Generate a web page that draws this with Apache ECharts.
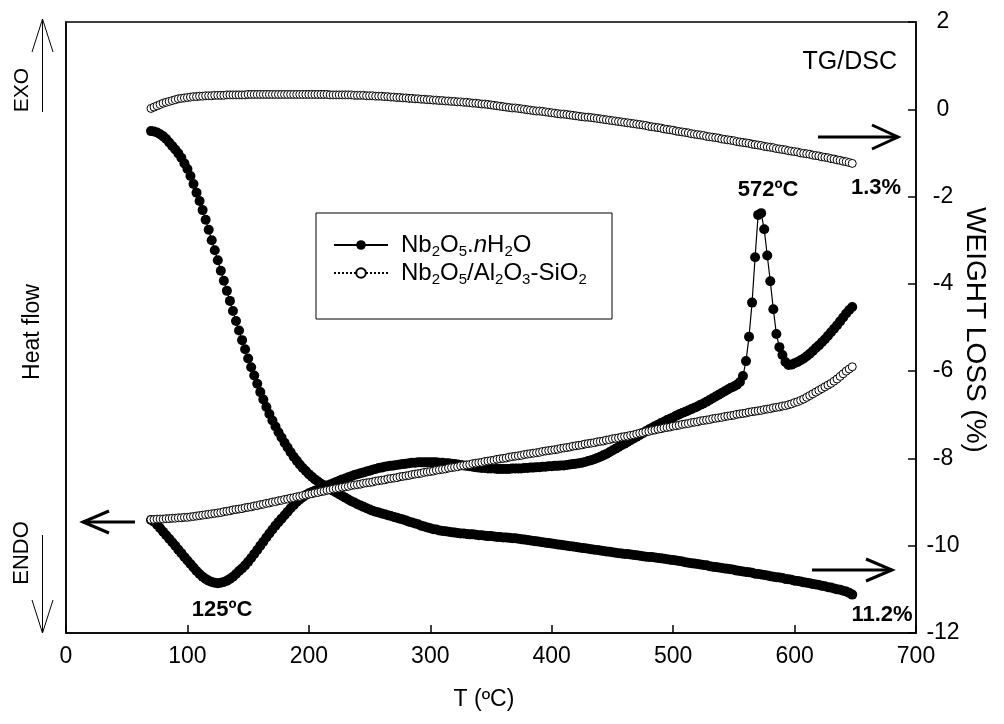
<!DOCTYPE html>
<html>
<head>
<meta charset="utf-8">
<script src="https://cdn.jsdelivr.net/npm/echarts@6/dist/echarts.min.js"></script>
<style>
html,body{margin:0;padding:0;background:#fff;}
#chart{width:1004px;height:724px;}
</style>
</head>
<body>
<div id="chart"></div>
<script>
// Temperature grid (°C)
const temps = [
70,72.5,75,77.5,80,82.5,85,87.5,90,92.5,
95,97.5,100,102.5,105,107.5,110,112.5,115,117.5,
120,122.5,125,127.5,130,132.5,135,137.5,140,142.5,
145,147.5,150,152.5,155,157.5,160,162.5,165,167.5,
170,172.5,175,177.5,180,182.5,185,187.5,190,192.5,
195,197.5,200,202.5,205,207.5,210,212.5,215,217.5,
220,222.5,225,227.5,230,232.5,235,237.5,240,242.5,
245,247.5,250,252.5,255,257.5,260,262.5,265,267.5,
270,272.5,275,277.5,280,282.5,285,287.5,290,292.5,
295,297.5,300,302.5,305,307.5,310,312.5,315,317.5,
320,322.5,325,327.5,330,332.5,335,337.5,340,342.5,
345,347.5,350,352.5,355,357.5,360,362.5,365,367.5,
370,372.5,375,377.5,380,382.5,385,387.5,390,392.5,
395,397.5,400,402.5,405,407.5,410,412.5,415,417.5,
420,422.5,425,427.5,430,432.5,435,437.5,440,442.5,
445,447.5,450,452.5,455,457.5,460,462.5,465,467.5,
470,472.5,475,477.5,480,482.5,485,487.5,490,492.5,
495,497.5,500,502.5,505,507.5,510,512.5,515,517.5,
520,522.5,525,527.5,530,532.5,535,537.5,540,542.5,
545,547.5,550,552.5,555,557.5,560,562.5,565,567.5,
570,572.5,575,577.5,580,582.5,585,587.5,590,592.5,
595,597.5,600,602.5,605,607.5,610,612.5,615,617.5,
620,622.5,625,627.5,630,632.5,635,637.5,640,642.5,
645,647.5];

// Nb2O5.nH2O - weight loss (%), right axis
const tgHydrate = [
-0.50,-0.51,-0.53,-0.57,-0.62,-0.68,-0.76,-0.84,-0.92,-1.01,
-1.11,-1.24,-1.37,-1.53,-1.71,-1.91,-2.10,-2.31,-2.53,-2.76,
-3.00,-3.23,-3.46,-3.70,-3.93,-4.16,-4.39,-4.62,-4.85,-5.07,
-5.29,-5.50,-5.71,-5.91,-6.10,-6.29,-6.48,-6.65,-6.82,-6.98,
-7.13,-7.27,-7.40,-7.52,-7.64,-7.75,-7.86,-7.96,-8.05,-8.14,
-8.22,-8.29,-8.36,-8.42,-8.48,-8.53,-8.58,-8.62,-8.66,-8.70,
-8.74,-8.78,-8.82,-8.86,-8.90,-8.94,-8.98,-9.01,-9.05,-9.08,
-9.11,-9.14,-9.17,-9.20,-9.22,-9.24,-9.26,-9.28,-9.30,-9.32,
-9.34,-9.36,-9.38,-9.40,-9.42,-9.45,-9.47,-9.49,-9.51,-9.54,
-9.56,-9.58,-9.60,-9.62,-9.63,-9.65,-9.66,-9.67,-9.68,-9.69,
-9.70,-9.71,-9.72,-9.72,-9.73,-9.74,-9.74,-9.75,-9.76,-9.76,
-9.77,-9.78,-9.78,-9.79,-9.80,-9.80,-9.81,-9.81,-9.82,-9.83,
-9.83,-9.84,-9.85,-9.86,-9.87,-9.88,-9.89,-9.90,-9.91,-9.92,
-9.93,-9.94,-9.95,-9.96,-9.97,-9.98,-9.99,-10.00,-10.01,-10.02,
-10.03,-10.04,-10.05,-10.06,-10.07,-10.08,-10.09,-10.10,-10.11,-10.12,
-10.13,-10.14,-10.15,-10.16,-10.17,-10.18,-10.19,-10.19,-10.20,-10.21,
-10.22,-10.23,-10.24,-10.25,-10.26,-10.26,-10.27,-10.28,-10.29,-10.30,
-10.31,-10.32,-10.33,-10.34,-10.35,-10.36,-10.38,-10.39,-10.40,-10.41,
-10.42,-10.43,-10.44,-10.45,-10.47,-10.48,-10.49,-10.50,-10.51,-10.52,
-10.53,-10.54,-10.55,-10.57,-10.58,-10.59,-10.60,-10.61,-10.62,-10.64,
-10.65,-10.66,-10.67,-10.68,-10.70,-10.71,-10.72,-10.73,-10.74,-10.76,
-10.77,-10.78,-10.80,-10.81,-10.82,-10.84,-10.85,-10.86,-10.88,-10.89,
-10.90,-10.92,-10.93,-10.95,-10.96,-10.98,-11.00,-11.01,-11.03,-11.05,
-11.08,-11.12];

// Nb2O5.nH2O - heat flow (arbitrary units, left axis)
const dscHydrate = [
-9.41,-9.45,-9.52,-9.60,-9.68,-9.76,-9.84,-9.92,-10.00,-10.09,
-10.17,-10.26,-10.34,-10.42,-10.50,-10.58,-10.65,-10.71,-10.76,-10.80,
-10.83,-10.85,-10.86,-10.85,-10.83,-10.80,-10.76,-10.71,-10.65,-10.58,
-10.52,-10.45,-10.37,-10.28,-10.19,-10.10,-10.00,-9.91,-9.81,-9.72,
-9.63,-9.54,-9.46,-9.38,-9.30,-9.22,-9.14,-9.07,-9.00,-8.94,
-8.89,-8.84,-8.80,-8.77,-8.74,-8.71,-8.68,-8.65,-8.62,-8.60,
-8.57,-8.54,-8.51,-8.48,-8.46,-8.43,-8.41,-8.38,-8.36,-8.34,
-8.32,-8.30,-8.28,-8.26,-8.24,-8.22,-8.21,-8.19,-8.18,-8.17,
-8.16,-8.15,-8.14,-8.13,-8.12,-8.11,-8.10,-8.10,-8.09,-8.09,
-8.09,-8.09,-8.09,-8.09,-8.09,-8.10,-8.10,-8.11,-8.11,-8.12,
-8.13,-8.14,-8.15,-8.16,-8.17,-8.18,-8.19,-8.20,-8.21,-8.22,
-8.22,-8.23,-8.23,-8.23,-8.24,-8.24,-8.24,-8.24,-8.24,-8.23,
-8.23,-8.23,-8.23,-8.22,-8.22,-8.21,-8.21,-8.20,-8.20,-8.19,
-8.19,-8.18,-8.18,-8.17,-8.17,-8.16,-8.16,-8.15,-8.14,-8.13,
-8.12,-8.11,-8.10,-8.08,-8.06,-8.04,-8.02,-7.99,-7.96,-7.93,
-7.90,-7.86,-7.82,-7.78,-7.74,-7.70,-7.66,-7.62,-7.58,-7.54,
-7.50,-7.46,-7.42,-7.38,-7.34,-7.30,-7.26,-7.23,-7.19,-7.16,
-7.12,-7.09,-7.06,-7.02,-6.99,-6.96,-6.93,-6.90,-6.87,-6.84,
-6.81,-6.77,-6.74,-6.70,-6.66,-6.62,-6.58,-6.54,-6.50,-6.46,
-6.42,-6.38,-6.35,-6.31,-6.25,-6.11,-5.77,-5.21,-4.43,-3.39,
-2.42,-2.38,-2.75,-3.35,-3.94,-4.58,-5.15,-5.45,-5.63,-5.79,
-5.86,-5.85,-5.82,-5.79,-5.75,-5.71,-5.66,-5.60,-5.54,-5.47,
-5.41,-5.34,-5.27,-5.19,-5.11,-5.03,-4.95,-4.86,-4.77,-4.68,
-4.60,-4.53];

// Nb2O5/Al2O3-SiO2 - weight loss (%), right axis
const tgSupported = [
0.02,0.05,0.08,0.11,0.14,0.16,0.18,0.20,0.22,0.24,
0.25,0.26,0.27,0.28,0.29,0.29,0.30,0.30,0.31,0.31,
0.31,0.32,0.32,0.32,0.32,0.33,0.33,0.33,0.33,0.33,
0.33,0.33,0.34,0.34,0.34,0.34,0.34,0.34,0.34,0.34,
0.34,0.34,0.34,0.34,0.34,0.34,0.34,0.34,0.34,0.34,
0.34,0.34,0.34,0.34,0.34,0.34,0.34,0.34,0.34,0.33,
0.33,0.33,0.33,0.33,0.33,0.33,0.33,0.32,0.32,0.32,
0.32,0.31,0.31,0.31,0.30,0.30,0.30,0.29,0.29,0.28,
0.28,0.27,0.27,0.26,0.26,0.25,0.25,0.24,0.24,0.23,
0.23,0.22,0.22,0.21,0.21,0.20,0.20,0.19,0.19,0.18,
0.18,0.17,0.17,0.16,0.16,0.15,0.14,0.14,0.13,0.12,
0.12,0.11,0.10,0.09,0.08,0.07,0.06,0.05,0.04,0.03,
0.03,0.02,0.01,0.00,-0.01,-0.02,-0.03,-0.04,-0.04,-0.05,
-0.06,-0.07,-0.08,-0.09,-0.10,-0.11,-0.11,-0.12,-0.13,-0.14,
-0.15,-0.16,-0.17,-0.18,-0.18,-0.19,-0.20,-0.21,-0.22,-0.23,
-0.24,-0.25,-0.26,-0.27,-0.28,-0.29,-0.30,-0.31,-0.32,-0.33,
-0.34,-0.35,-0.36,-0.37,-0.39,-0.40,-0.41,-0.42,-0.43,-0.45,
-0.46,-0.47,-0.48,-0.50,-0.51,-0.52,-0.53,-0.54,-0.56,-0.57,
-0.58,-0.59,-0.60,-0.62,-0.63,-0.64,-0.65,-0.66,-0.68,-0.69,
-0.70,-0.71,-0.72,-0.74,-0.75,-0.76,-0.77,-0.78,-0.80,-0.81,
-0.82,-0.83,-0.85,-0.86,-0.87,-0.88,-0.90,-0.91,-0.92,-0.93,
-0.95,-0.96,-0.97,-0.98,-1.00,-1.01,-1.02,-1.03,-1.05,-1.06,
-1.07,-1.09,-1.10,-1.11,-1.13,-1.14,-1.16,-1.17,-1.19,-1.20,
-1.22,-1.24];

// Nb2O5/Al2O3-SiO2 - heat flow (arbitrary units, left axis)
const dscSupported = [
-9.40,-9.40,-9.39,-9.39,-9.39,-9.38,-9.38,-9.37,-9.37,-9.36,
-9.36,-9.35,-9.35,-9.34,-9.33,-9.32,-9.31,-9.30,-9.29,-9.28,
-9.27,-9.26,-9.25,-9.24,-9.22,-9.21,-9.20,-9.18,-9.17,-9.16,
-9.15,-9.13,-9.12,-9.11,-9.09,-9.08,-9.06,-9.05,-9.03,-9.02,
-9.00,-8.99,-8.97,-8.96,-8.94,-8.93,-8.91,-8.90,-8.88,-8.87,
-8.85,-8.84,-8.82,-8.81,-8.79,-8.78,-8.76,-8.75,-8.73,-8.72,
-8.70,-8.69,-8.68,-8.66,-8.65,-8.64,-8.62,-8.61,-8.60,-8.59,
-8.57,-8.56,-8.55,-8.54,-8.52,-8.51,-8.50,-8.49,-8.47,-8.46,
-8.45,-8.44,-8.42,-8.41,-8.40,-8.39,-8.37,-8.36,-8.35,-8.34,
-8.32,-8.31,-8.30,-8.29,-8.27,-8.26,-8.25,-8.24,-8.22,-8.21,
-8.20,-8.19,-8.17,-8.16,-8.15,-8.14,-8.12,-8.11,-8.10,-8.09,
-8.07,-8.06,-8.05,-8.04,-8.02,-8.01,-8.00,-7.99,-7.97,-7.96,
-7.95,-7.94,-7.93,-7.91,-7.90,-7.89,-7.88,-7.87,-7.86,-7.84,
-7.83,-7.82,-7.81,-7.80,-7.79,-7.77,-7.76,-7.75,-7.74,-7.72,
-7.71,-7.70,-7.69,-7.67,-7.66,-7.65,-7.64,-7.62,-7.61,-7.60,
-7.58,-7.57,-7.55,-7.54,-7.53,-7.51,-7.50,-7.49,-7.47,-7.46,
-7.44,-7.42,-7.41,-7.39,-7.38,-7.36,-7.35,-7.33,-7.32,-7.30,
-7.29,-7.28,-7.26,-7.25,-7.24,-7.22,-7.21,-7.20,-7.18,-7.17,
-7.16,-7.14,-7.13,-7.12,-7.11,-7.09,-7.08,-7.07,-7.06,-7.04,
-7.03,-7.02,-7.01,-6.99,-6.98,-6.97,-6.96,-6.94,-6.93,-6.92,
-6.91,-6.90,-6.88,-6.87,-6.86,-6.84,-6.83,-6.82,-6.80,-6.79,
-6.77,-6.75,-6.72,-6.70,-6.67,-6.64,-6.60,-6.56,-6.52,-6.48,
-6.44,-6.40,-6.36,-6.32,-6.28,-6.23,-6.18,-6.12,-6.06,-6.00,
-5.95,-5.90];

const xTicks = [0, 700, 100];      // min, max, interval
const yTicks = [-12, 2, 2];        // min, max, interval (weight loss %)
const seriesNames = ['Nb2O5.nH2O', 'Nb2O5/Al2O3-SiO2'];
const peakLabels = ['125ºC', '572ºC'];
const lossLabels = ['1.3%', '11.2%'];

const FONT = '"Liberation Sans", Arial, Helvetica, sans-serif';
const pair = (ys) => temps.map((t, i) => [t, ys[i]]);

const chart = echarts.init(document.getElementById('chart'), null, {renderer: 'canvas'});

const filledStyle = {
  type: 'line', symbol: 'circle', symbolSize: 10, showSymbol: true,
  itemStyle: {color: '#000'},
  lineStyle: {color: '#000', width: 1.2},
  emphasis: {disabled: true}, animation: false, z: 2
};
const openStyle = {
  type: 'line', symbol: 'circle', symbolSize: 8, showSymbol: true,
  itemStyle: {color: '#fff', borderColor: '#000', borderWidth: 1},
  lineStyle: {color: '#000', width: 1, type: 'dotted'},
  emphasis: {disabled: true}, animation: false, z: 3
};

const legendFormatter = (name) => {
  if (name === seriesNames[0]) {
    return '{n|Nb}{s|2}{n|O}{s|5}{n|.}{i|n}{n|H}{s|2}{n|O}';
  }
  return '{n|Nb}{s|2}{n|O}{s|5}{n|/Al}{s|2}{n|O}{s|3}{n|-SiO}{s|2}';
};

const txt = (text, x, y, opts = {}) => ({
  type: 'text', x, y, rotation: opts.rotation || 0, z: 50,
  style: {
    text, x: 0, y: 0, align: opts.align || 'center', verticalAlign: 'middle',
    fontSize: opts.size || 23, fontWeight: opts.bold ? 'bold' : 'normal',
    fontFamily: FONT, fill: '#000'
  }
});
const poly = (points, w) => ({
  type: 'polyline', z: 50, shape: {points},
  style: {stroke: '#000', lineWidth: w, fill: null}
});

const option = {
  backgroundColor: '#fff',
  animation: false,
  grid: {left: 66, right: 88, top: 22, bottom: 91, show: true, borderColor: '#000', borderWidth: 1.5, backgroundColor: 'transparent'},
  xAxis: {
    type: 'value', min: xTicks[0], max: xTicks[1], interval: xTicks[2],
    axisLine: {show: true, onZero: false, lineStyle: {color: '#000', width: 1.5}},
    axisTick: {show: true, inside: true, length: 8, lineStyle: {color: '#000', width: 1.5}},
    axisLabel: {color: '#000', fontSize: 23, fontFamily: FONT, margin: 12},
    splitLine: {show: false}
  },
  yAxis: [
    {
      type: 'value', min: yTicks[0], max: yTicks[1], interval: yTicks[2], position: 'left',
      axisLine: {show: true, onZero: false, lineStyle: {color: '#000', width: 1.5}},
      axisTick: {show: false}, axisLabel: {show: false}, splitLine: {show: false}
    },
    {
      type: 'value', min: yTicks[0], max: yTicks[1], interval: yTicks[2], position: 'right',
      axisLine: {show: true, onZero: false, lineStyle: {color: '#000', width: 1.5}},
      axisTick: {show: true, inside: true, length: 8, lineStyle: {color: '#000', width: 1.5}},
      axisLabel: {color: '#000', fontSize: 23, fontFamily: FONT, margin: 27, align: 'center'},
      splitLine: {show: false}
    }
  ],
  legend: {
    orient: 'vertical', left: 333, top: 233, padding: 0, itemGap: 2,
    itemWidth: 54, itemHeight: 12, z: 60,
    data: seriesNames, formatter: legendFormatter,
    textStyle: {
      padding: [0, 0, 0, 8],
      rich: {
        n: {fontSize: 24, fontFamily: FONT, color: '#000', lineHeight: 28},
        i: {fontSize: 24, fontFamily: FONT, fontStyle: 'italic', color: '#000', lineHeight: 28},
        s: {fontSize: 15, fontFamily: FONT, color: '#000', lineHeight: 15, verticalAlign: 'bottom'}
      }
    }
  },
  graphic: [
    {type: 'rect', z: 40, shape: {x: 316, y: 213, width: 296, height: 106},
     style: {fill: '#fff', stroke: '#000', lineWidth: 1}},
    txt('TG/DSC', 897, 62, {size: 25, align: 'right'}),
    txt(peakLabels[0], 222, 610, {bold: true, size: 22}),
    txt(peakLabels[1], 768, 190, {bold: true, size: 22}),
    txt(lossLabels[0], 876, 188, {bold: true, size: 22}),
    txt(lossLabels[1], 882, 615, {bold: true, size: 22}),
    txt('T (ºC)', 484, 700, {size: 23}),
    txt('Heat flow', 33, 332, {size: 23, rotation: Math.PI / 2}),
    txt('WEIGHT LOSS (%)', 975, 330, {size: 28, rotation: -Math.PI / 2}),
    txt('EXO', 22, 90, {size: 21, rotation: Math.PI / 2}),
    txt('ENDO', 22, 553, {size: 22, rotation: Math.PI / 2}),
    // arrows
    poly([[818, 137], [898, 137]], 3), poly([[872, 125], [898, 137], [872, 149]], 3),
    poly([[812, 570], [892, 570]], 3), poly([[866, 559], [892, 570], [866, 581]], 3),
    poly([[135, 522], [83, 522]], 3), poly([[109, 511], [83, 522], [109, 533]], 3),
    poly([[42.5, 112], [42.5, 19]], 1), poly([[32, 52], [42.5, 19], [53, 52]], 1),
    poly([[42.5, 535], [42.5, 633]], 1), poly([[32, 600], [42.5, 633], [53, 600]], 1)
  ],
  series: [
    Object.assign({name: seriesNames[0], yAxisIndex: 0, data: pair(dscHydrate)}, filledStyle),
    Object.assign({name: seriesNames[0], yAxisIndex: 1, data: pair(tgHydrate)}, filledStyle),
    Object.assign({name: seriesNames[1], yAxisIndex: 0, data: pair(dscSupported)}, openStyle),
    Object.assign({name: seriesNames[1], yAxisIndex: 1, data: pair(tgSupported)}, openStyle)
  ]
};
chart.setOption(option);
</script>
</body>
</html>
